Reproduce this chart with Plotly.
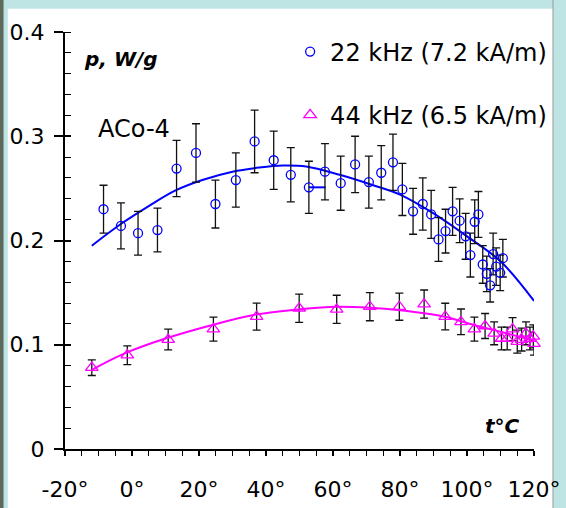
import plotly.graph_objects as go

# Specific loss power p (W/g) vs temperature t (°C), sample ACo-4

# 22 kHz (7.2 kA/m) measurements
t_22 = [-8.5, -3.3, 1.8, 7.6, 13.3, 19.1, 24.9, 31.0, 36.6, 42.3, 47.4, 52.8,
        57.6, 62.3, 66.6, 70.7, 74.4, 77.9, 80.7, 83.9, 86.8, 89.3, 91.5, 93.6,
        95.7, 97.8, 99.6, 101.0, 102.3, 103.4, 104.7, 105.9, 106.9, 107.8,
        108.7, 109.9, 110.7]
p_22 = [0.230, 0.214, 0.207, 0.210, 0.269, 0.284, 0.235, 0.258, 0.295, 0.277,
        0.263, 0.251, 0.266, 0.255, 0.273, 0.256, 0.265, 0.275, 0.249, 0.228,
        0.235, 0.225, 0.201, 0.209, 0.228, 0.219, 0.204, 0.186, 0.218, 0.225,
        0.177, 0.168, 0.157, 0.187, 0.175, 0.169, 0.183]
err_22 = [0.023, 0.022, 0.021, 0.021, 0.027, 0.028, 0.023, 0.026, 0.030, 0.028,
          0.026, 0.025, 0.027, 0.026, 0.027, 0.025, 0.026, 0.027, 0.025, 0.022,
          0.025, 0.023, 0.021, 0.021, 0.023, 0.021, 0.022, 0.021, 0.021, 0.022,
          0.018, 0.017, 0.016, 0.020, 0.018, 0.017, 0.018]
# temperature uncertainty (only one point carries it)
terr_22 = [0.0] * len(t_22)
terr_22[11] = 5.0

# 44 kHz (6.5 kA/m) measurements
t_44 = [-12.0, -1.4, 10.8, 24.3, 37.2, 49.9, 61.1, 71.0, 79.8, 87.2, 93.5,
        98.2, 102.2, 105.4, 108.1, 110.3, 112.0, 113.6, 115.0, 116.3, 117.6,
        118.8, 119.8, 120.0]
p_44 = [0.078, 0.090, 0.105, 0.115, 0.127, 0.135, 0.134, 0.1365, 0.1365,
        0.139, 0.127, 0.122, 0.115, 0.118, 0.111, 0.106, 0.106, 0.115, 0.103,
        0.105, 0.111, 0.106, 0.108, 0.101]
err_44 = [0.0075, 0.009, 0.010, 0.0115, 0.013, 0.0135, 0.0135, 0.0135, 0.013,
          0.0135, 0.0128, 0.0123, 0.0115, 0.012, 0.011, 0.011, 0.011, 0.011,
          0.011, 0.011, 0.011, 0.011, 0.011, 0.011]

# fitted trend curves
fit_t_22 = [-12, -3, 5, 13, 21, 30, 38, 45, 52, 62, 72, 80, 90, 100, 110, 120]
fit_p_22 = [0.195, 0.2165, 0.233, 0.248, 0.258, 0.266, 0.270, 0.272, 0.271,
            0.263, 0.253, 0.244, 0.226, 0.204, 0.180, 0.142]
fit_t_44 = [-12, -2, 10, 24, 37, 50, 61, 71, 80, 93, 102, 110, 120]
fit_p_44 = [0.076, 0.092, 0.106, 0.119, 0.129, 0.134, 0.1365, 0.1355, 0.133,
            0.127, 0.119, 0.1125, 0.104]

x_ticks = [-20, 0, 20, 40, 60, 80, 100, 120]
x_labels = [f"{v}°" for v in x_ticks]
y_ticks = [0, 0.1, 0.2, 0.3, 0.4]
y_labels = ["0", "0.1", "0.2", "0.3", "0.4"]

BLUE = "#0000ff"
MAGENTA = "#ff00ff"
FONT = "DejaVu Sans"

fig = go.Figure()

fig.add_trace(go.Scatter(
    x=fit_t_22, y=fit_p_22, mode="lines", line=dict(color=BLUE, width=2, shape="spline"),
    showlegend=False, hoverinfo="skip"))
fig.add_trace(go.Scatter(
    x=fit_t_44, y=fit_p_44, mode="lines", line=dict(color=MAGENTA, width=2, shape="spline"),
    showlegend=False, hoverinfo="skip", xaxis="x2", yaxis="y2"))

fig.add_trace(go.Scatter(
    x=t_22, y=p_22, mode="markers", name="22 kHz (7.2 kA/m)", legendgroup="a",
    marker=dict(symbol="circle-open", size=9, color=BLUE, line=dict(width=1.3)),
    error_y=dict(type="data", array=err_22, color="#111111", thickness=1.3, width=4),
    error_x=dict(type="data", symmetric=False, array=terr_22, arrayminus=[0.0] * len(t_22),
                 color=BLUE, thickness=2, width=0),
    cliponaxis=False))
fig.add_trace(go.Scatter(
    x=t_44, y=p_44, mode="markers", name="44 kHz (6.5 kA/m)", legendgroup="b",
    marker=dict(symbol="triangle-up-open", size=11, color=MAGENTA, line=dict(width=1.3)),
    error_y=dict(type="data", array=err_44, color="#111111", thickness=1.3, width=4),
    cliponaxis=False))

tickfont = dict(family=FONT, size=22, color="black")

fig.update_layout(
    width=566, height=508, autosize=False,
    margin=dict(l=65, r=32, t=32, b=59, pad=0),
    paper_bgcolor="white", plot_bgcolor="white",
    font=dict(family=FONT, color="black"),
    xaxis=dict(range=[-20, 120], tickvals=x_ticks, ticktext=x_labels, tickfont=tickfont,
               automargin=False,
               showline=True, linecolor="black", linewidth=2, showgrid=False, zeroline=False,
               ticks="outside", ticklen=5, tickwidth=1.5, tickcolor="black",
               ticklabelstandoff=15,
               minor=dict(dtick=5, tick0=0, ticks="outside", ticklen=5, tickwidth=1.3,
                          tickcolor="black", showgrid=False)),
    yaxis=dict(range=[0, 0.4], tickvals=y_ticks, ticktext=y_labels, tickfont=tickfont,
               automargin=False,
               showline=True, linecolor="black", linewidth=2, showgrid=False, zeroline=False,
               ticks="outside", ticklen=9, tickwidth=1.5, tickcolor="black",
               ticklabelstandoff=5,
               minor=dict(dtick=0.02, tick0=0, ticks="inside", ticklen=6, tickwidth=1.3,
                          tickcolor="black", showgrid=False)),
    xaxis2=dict(range=[-20, 120], overlaying="x", anchor="y2", visible=False,
                automargin=False),
    yaxis2=dict(range=[0, 0.4], overlaying="y", anchor="x2", side="left", tickvals=y_ticks,
                automargin=False,
                showticklabels=False, showline=False, showgrid=False, zeroline=False,
                ticks="inside", ticklen=6, tickwidth=1.5, tickcolor="black"),
    legend=dict(x=0.48, y=1.006, xanchor="left", yanchor="top", bgcolor="rgba(0,0,0,0)",
                font=dict(family=FONT, size=24, color="black"), tracegroupgap=29,
                traceorder="grouped", itemwidth=30),
    annotations=[
        dict(text="<b><i>p, W/g</i></b>", x=-15.0, y=0.374, xref="x", yref="y",
             xanchor="left", yanchor="middle", showarrow=False,
             font=dict(family=FONT, size=20, color="black")),
        dict(text="ACo-4", x=-10.6, y=0.307, xref="x", yref="y",
             xanchor="left", yanchor="middle", showarrow=False,
             font=dict(family=FONT, size=24, color="black")),
        dict(text="<b><i>t°C</i></b>", x=116.5, y=0.022, xref="x", yref="y",
             xanchor="right", yanchor="middle", showarrow=False,
             font=dict(family=FONT, size=20, color="black")),
    ],
    shapes=[
        # frame around the white panel
        dict(type="rect", xref="paper", yref="paper", x0=-0.139, x1=1.212, y0=1.056, y1=1.08,
             fillcolor="#bfe4e4", line_width=0, layer="below"),
        dict(type="rect", xref="paper", yref="paper", x0=-0.139, x1=-0.122, y0=-0.2, y1=1.08,
             fillcolor="#bfe4e4", line_width=0, layer="below"),
        dict(type="rect", xref="paper", yref="paper", x0=-0.139, x1=-0.131, y0=-0.2, y1=1.08,
             fillcolor="#5d6b5c", line_width=0, layer="below"),
        dict(type="rect", xref="paper", yref="paper", x0=1.0405, x1=1.212, y0=-0.2, y1=1.08,
             fillcolor="#bfe4e4", line=dict(color="#9a9a9a", width=1), layer="below"),
    ],
)

fig.write_html("out.html")
